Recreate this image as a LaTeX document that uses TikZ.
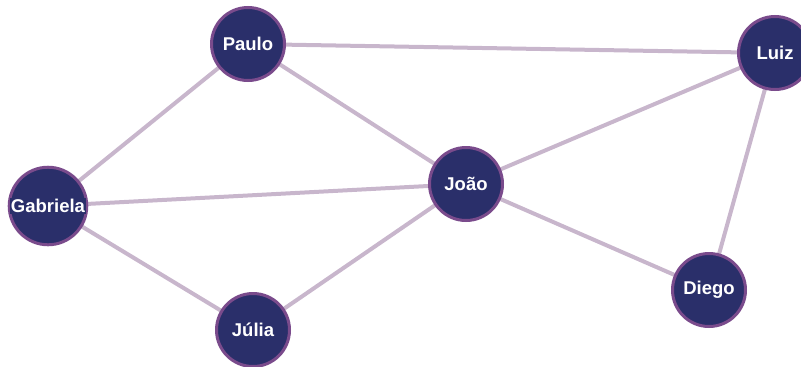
\documentclass[tikz,border=0pt]{standalone}
\usepackage{fontspec}
\setmainfont{Liberation Sans}
\usetikzlibrary{backgrounds}
\definecolor{navy}{HTML}{2A2F6A}
\definecolor{ringc}{HTML}{7A4B8C}
\definecolor{linkc}{HTML}{C8B6CC}
% white label on a tight navy backing so it stays readable off the disc
\newcommand\backedtext[1]{{\setlength{\fboxsep}{1pt}\colorbox{navy}{#1}}}
\tikzset{
  person/.style={circle, fill=navy, draw=ringc, line width=3pt,
    minimum size=73pt, inner sep=0pt, text=white,
    font=\fontsize{18.5}{20}\selectfont\bfseries},
  link/.style={draw=linkc, line width=4pt}
}
\begin{document}
\begin{tikzpicture}[x=1pt, y=-1pt]
  \useasboundingbox (0,0) rectangle (801,367);
  \node[person] (paulo)    at (248,44)  {\backedtext{Paulo}};
  \node[person] (luiz)     at (775,53)  {\backedtext{Luiz}};
  \node[person] (gabriela) at (48,206)  {\backedtext{Gabriela}};
  \node[person] (joao)     at (466,184) {\backedtext{João}};
  \node[person] (julia)    at (253,330) {\backedtext{Júlia}};
  \node[person] (diego)    at (709,290) {\backedtext{Diego}};
  \begin{scope}[on background layer]
    \path[link] (paulo.center) -- (luiz.center);
    \path[link] (paulo.center) -- (gabriela.center);
    \path[link] (paulo.center) -- (joao.center);
    \path[link] (gabriela.center) -- (joao.center);
    \path[link] (gabriela.center) -- (julia.center);
    \path[link] (julia.center) -- (joao.center);
    \path[link] (joao.center) -- (luiz.center);
    \path[link] (joao.center) -- (diego.center);
    \path[link] (luiz.center) -- (diego.center);
  \end{scope}
\end{tikzpicture}
\end{document}
